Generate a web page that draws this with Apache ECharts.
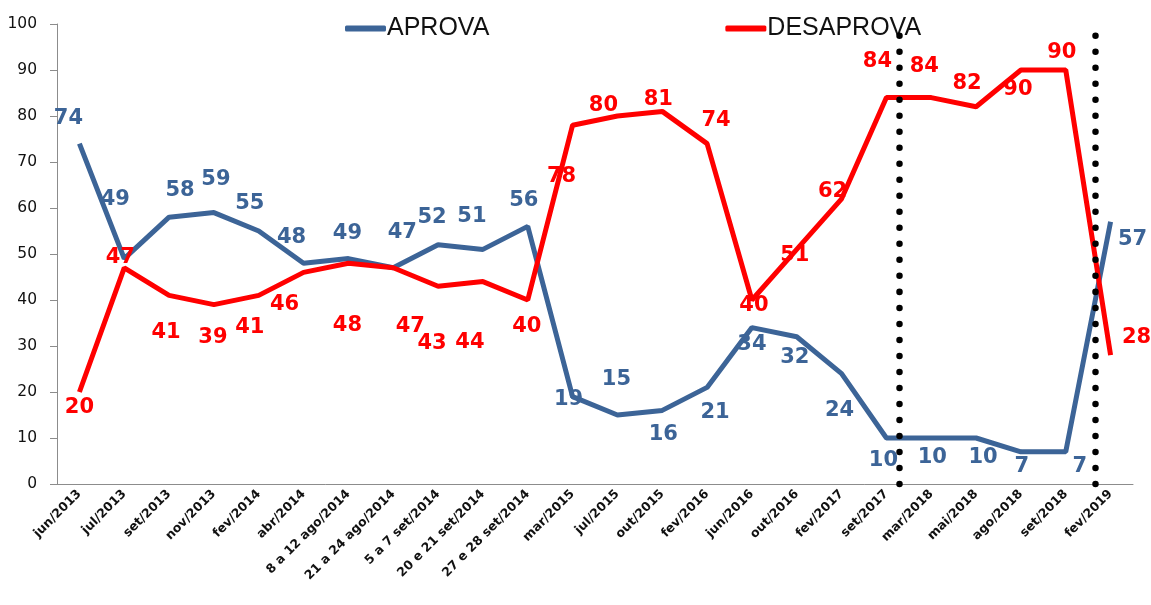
<!DOCTYPE html>
<html lang="pt">
<head>
    <meta charset="UTF-8">
    <title>Aprova / Desaprova</title>
    <script src="https://cdn.jsdelivr.net/npm/echarts@6.0.0/dist/echarts.min.js"></script>
</head>
<style>
    *{margin:0;padding:0;}
    html, body{width:100%;height:100%;overflow:hidden;background:#fff;}
    .container{width:1151px;height:605px;}
</style>
<body>
<div class="container"></div>
<script>
    let categories = ['jun/2013','jul/2013','set/2013','nov/2013','fev/2014','abr/2014',
        '8 a 12 ago/2014','21 a 24 ago/2014','5 a 7 set/2014','20 e 21 set/2014','27 e 28 set/2014',
        'mar/2015','jul/2015','out/2015','fev/2016','jun/2016','out/2016','fev/2017','set/2017',
        'mar/2018','mai/2018','ago/2018','set/2018','fev/2019'];
    let aprova    = [74,49,58,59,55,48,49,47,52,51,56,19,15,16,21,34,32,24,10,10,10,7,7,57];
    let desaprova = [20,47,41,39,41,46,48,47,43,44,40,78,80,81,74,40,51,62,84,84,82,90,90,28];

    // label offsets (px) from each point
    let aprovaOff = [[-11,-25],[-9,-59],[11,-27],[2,-33],[-9,-27],[-12,-26],[-1,-25],[9,-35],[-6,-27],[-11,-33],[-4,-26],
        [-4,3],[-1,-35],[1,24],[8,25],[0,17],[-2,21],[-2,37],[-3,23],[1,20],[7,20],[1,15],[14,15],[22,18]];
    let desaprovaOff = [[0,16],[-4,-10],[-3,37],[-1,33],[-9,32],[-19,32],[-1,62],[17,59],[-6,57],[-13,61],[-1,27],
        [-11,51],[-14,-10],[-4,-12],[9,-23],[2,6],[-2,6],[-9,-7],[-9,-36],[-7,-31],[-9,-23],[-3,20],[-4,-17],[26,-18]];

    // dotted separators, in category units along the axis
    let separators = [18.78, 23.15];

    let blue = '#3c6497';
    let red = '#ff0000';

    function withLabels(values, offs){
        return values.map((v, i) => ({
            value: v,
            label: {offset: offs[i]}
        }));
    }

    let mycharts = echarts.init(document.querySelector('.container'));
    let labelBase = {
        show: true,
        position: 'inside',
        fontFamily: 'DejaVu Sans',
        fontWeight: 'bold',
        fontSize: 21
    };

    let option = {
        animation: false,
        grid: {left: 57, right: 18, top: 24, bottom: 121},
        legend: {
            left: 340,
            top: 11,
            itemGap: 236,
            itemWidth: 41,
            itemHeight: 6,
            textStyle: {fontFamily: 'Liberation Sans', fontSize: 25, color: '#111', padding: [0, 0, 0, -4]},
            data: [
                {name: 'APROVA', icon: 'roundRect', itemStyle: {color: blue}},
                {name: 'DESAPROVA', icon: 'roundRect', itemStyle: {color: red}}
            ]
        },
        xAxis: [{
            type: 'category',
            data: categories,
            boundaryGap: true,
            axisLine: {lineStyle: {color: '#8c8c8c', width: 1}},
            axisTick: {length: 6, lineStyle: {color: '#8c8c8c'}},
            axisLabel: {
                interval: 0,
                rotate: 45,
                color: '#111',
                fontFamily: 'DejaVu Sans',
                fontWeight: 'bold',
                fontSize: 12.5,
                margin: 8
            }
        }, {
            type: 'value',
            min: 0,
            max: 24,
            show: false
        }],
        yAxis: {
            type: 'value',
            min: 0,
            max: 100,
            interval: 10,
            splitLine: {show: false},
            axisLine: {show: true, lineStyle: {color: '#8c8c8c'}},
            axisTick: {show: true, length: 7, lineStyle: {color: '#8c8c8c'}},
            axisLabel: {color: '#111', fontFamily: 'DejaVu Sans', fontSize: 15.5, margin: 20}
        },
        series: [{
            name: 'APROVA',
            type: 'line',
            data: withLabels(aprova, aprovaOff),
            symbol: 'circle',
            symbolSize: 0.01,
            itemStyle: {color: blue},
            lineStyle: {color: blue, width: 5},
            label: Object.assign({color: blue}, labelBase),
            z: 3
        }, {
            name: 'DESAPROVA',
            type: 'line',
            data: withLabels(desaprova, desaprovaOff),
            symbol: 'circle',
            symbolSize: 0.01,
            itemStyle: {color: red},
            lineStyle: {color: red, width: 5},
            label: Object.assign({color: red}, labelBase),
            z: 3
        }, {
            name: 'sep',
            type: 'line',
            xAxisIndex: 1,
            data: [],
            markLine: {
                silent: true,
                symbol: 'none',
                label: {show: false},
                lineStyle: {color: '#000', width: 6.5, type: [0.01, 16], cap: 'round'},
                data: separators.map(s => [{coord: [s, 0]}, {coord: [s, 98]}])
            },
            z: 5
        }]
    };
    mycharts.setOption(option);
</script>
</body>
</html>
